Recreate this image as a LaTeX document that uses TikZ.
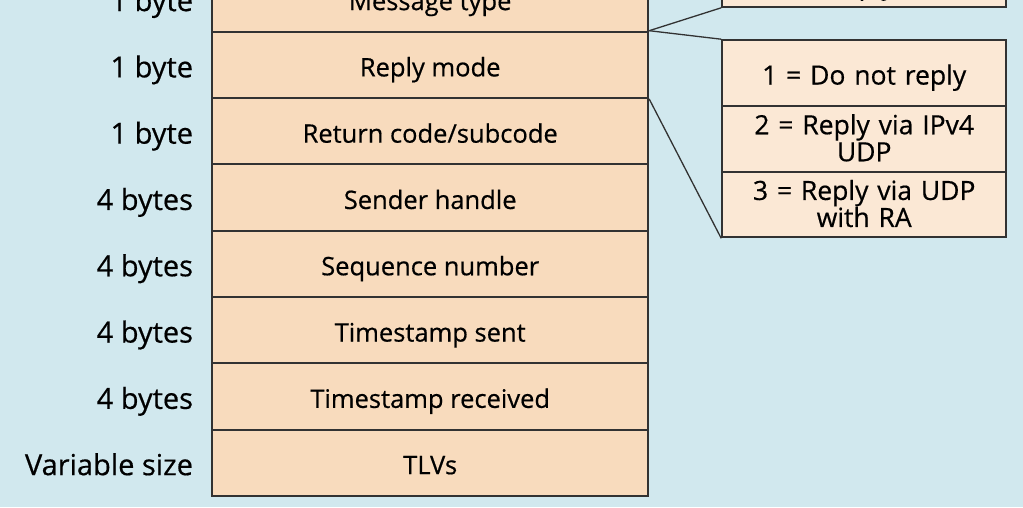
\documentclass[tikz,border=0pt]{standalone}
\usepackage{fontspec}
\setmainfont{Open Sans}[FakeBold=0.5]
\usetikzlibrary{matrix,positioning}
\definecolor{bgblue}{RGB}{209,232,238}
\definecolor{fieldfill}{RGB}{248,219,189}
\definecolor{optfill}{RGB}{251,232,213}
\definecolor{linegray}{RGB}{50,50,50}
\tikzset{
fieldmat/.style={
  matrix of nodes,
  inner sep=0pt,
  row sep=-2pt,
  nodes={rectangle,draw=linegray,fill=fieldfill,line width=2pt,
    minimum width=436pt,minimum height=66.3pt,
    text height=29pt,text depth=6pt,inner sep=0pt,
    font=\fontsize{25.5}{27}\selectfont}
  },
optmat/.style={
  fieldmat,
  nodes={fill=optfill,minimum width=284pt,minimum height=65.7pt,
    text width=280pt,align=center,font=\fontsize{26.5}{27}\selectfont}
  },
twoline/.style={text height=20pt,text depth=29pt},
lastline/.style={text height=18pt,text depth=31pt},
bytes/.style={inner sep=0pt,text height=31pt,text depth=6pt,
  font=\fontsize{29}{32}\selectfont},
link/.style={draw=linegray,line width=1.3pt}
}
\begin{document}
\begin{tikzpicture}[x=1pt,y=-1pt]
\useasboundingbox (0,0) rectangle (1023,507);
\clip (0,0) rectangle (1023,507);
\fill[bgblue] (0,0) rectangle (1023,507);

\matrix[fieldmat,anchor=south west]
at (211,497)
(field)
{
  Message type \\
  Reply mode \\
  Return code/subcode \\
  Sender handle \\
  Sequence number \\
  Timestamp sent \\
  Timestamp received \\
  TLVs \\
};

\matrix[optmat,anchor=north west]
at (721,39)
(opt)
{
  1 = Do not reply \\
  |[twoline]| {2 = Reply via IPv4\\UDP} \\
  |[twoline]| {3 = Reply via UDP\\with RA} \\
};

\matrix[optmat,above=31pt of opt]
(msg)
{
  |[lastline]| {2 = MPLS echo\\reply} \\
};

\node[bytes,left=18pt of field-1-1.west] {1 byte};
\node[bytes,left=18pt of field-2-1.west] {1 byte};
\node[bytes,left=18pt of field-3-1.west] {1 byte};
\node[bytes,left=18pt of field-4-1.west] {4 bytes};
\node[bytes,left=18pt of field-5-1.west] {4 bytes};
\node[bytes,left=18pt of field-6-1.west] {4 bytes};
\node[bytes,left=18pt of field-7-1.west] {4 bytes};
\node[bytes,left=18pt of field-8-1.west] {Variable size};

\draw[link] (field-2-1.north east) -- (msg-1-1.south west);
\draw[link] (field-2-1.north east) -- (opt-1-1.north west);
\draw[link] (field-2-1.south east) -- (opt-3-1.south west);
\end{tikzpicture}
\end{document}
